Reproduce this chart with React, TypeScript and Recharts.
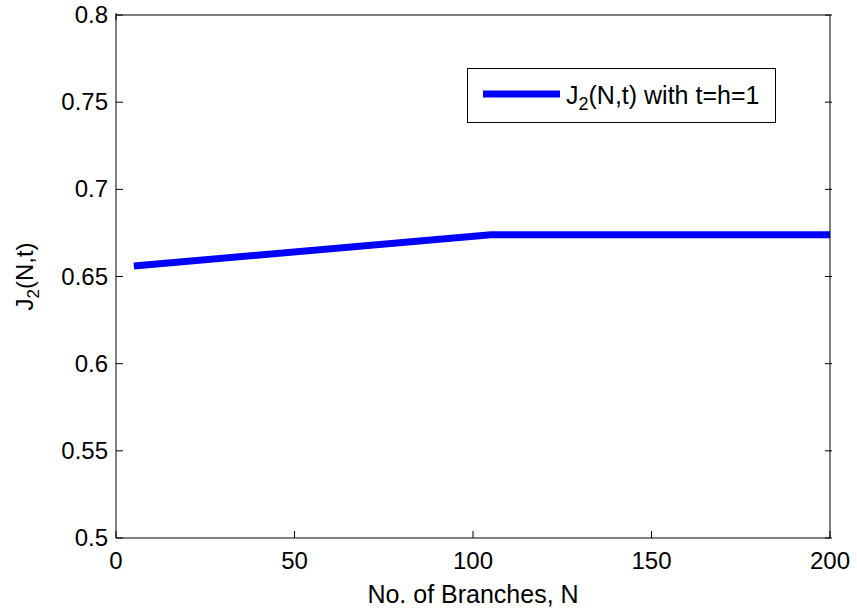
import React from 'react';
import { LineChart, Line, XAxis, YAxis, Legend } from 'recharts';

// J2(N,t) against the number of branches
const branches = [5, 105, 200];
const j2Values = [0.656, 0.674, 0.674];

const xTicks = [0, 50, 100, 150, 200];
const yTicks = [0.5, 0.55, 0.6, 0.65, 0.7, 0.75, 0.8];

const chartData = branches.map((n, i) => ({ n, j2: j2Values[i] }));

const FONT = "'Liberation Sans', Arial, sans-serif";
const TICK_LEN = 7;

const BottomTick = ({ x, y, payload }: any) => (
  <g>
    <line x1={x} x2={x} y1={y} y2={y - TICK_LEN} stroke="#000" />
    <text x={x} y={y + 31} textAnchor="middle" fontSize={24} fill="#000" fontFamily={FONT}>
      {payload.value}
    </text>
  </g>
);

const TopTick = ({ x, y }: any) => (
  <line x1={x} x2={x} y1={y} y2={y + TICK_LEN} stroke="#000" />
);

const LeftTick = ({ x, y, payload }: any) => (
  <g>
    <line x1={x} x2={x + TICK_LEN} y1={y} y2={y} stroke="#000" />
    <text x={x - 8} y={y + 8} textAnchor="end" fontSize={24} fill="#000" fontFamily={FONT}>
      {payload.value}
    </text>
  </g>
);

const RightTick = ({ x, y }: any) => (
  <line x1={x} x2={x - TICK_LEN} y1={y} y2={y} stroke="#000" />
);

const YLabel = ({ viewBox }: any) => {
  const cy = viewBox.y + viewBox.height / 2;
  return (
    <text
      transform={`translate(33, ${cy}) rotate(-90)`}
      textAnchor="middle"
      fontSize={24}
      fill="#000"
      fontFamily={FONT}
    >
      J<tspan fontSize={17} dy={6}>2</tspan>
      <tspan dy={-6}>(N,t)</tspan>
    </text>
  );
};

const LegendBox = () => (
  <div style={{ width: 309, height: 55, border: '1px solid #000', background: '#fff', boxSizing: 'border-box' }}>
    <svg width={307} height={53} style={{ display: 'block' }}>
      <line x1={15} x2={92} y1={25} y2={25} stroke="#0000ff" strokeWidth={7} />
      <text x={98} y={35} fontSize={25} fill="#000" fontFamily={FONT}>
        J<tspan fontSize={18} dy={6}>2</tspan>
        <tspan dy={-6}>(N,t) with t=h=1</tspan>
      </text>
    </svg>
  </div>
);

export default function App() {
  return (
    <div style={{ position: 'absolute', left: 0, top: 0, background: '#fff', fontFamily: FONT }}>
      <LineChart width={857} height={613} data={chartData} margin={{ top: 14, right: 26, left: 0, bottom: 0 }}>
        <XAxis
          dataKey="n"
          type="number"
          domain={[0, 200]}
          ticks={xTicks}
          height={75}
          axisLine={{ stroke: '#000' }}
          tickLine={false}
          tickSize={0}
          tickMargin={0}
          tick={<BottomTick />}
          interval={0}
          label={{
            value: 'No. of Branches, N',
            position: 'insideBottom',
            offset: 10,
            style: { fontSize: 25, fill: '#000', fontFamily: FONT },
          }}
        />
        <XAxis
          xAxisId="top"
          orientation="top"
          type="number"
          domain={[0, 200]}
          allowDataOverflow
          ticks={xTicks}
          height={1}
          axisLine={{ stroke: '#000' }}
          tickLine={false}
          tickSize={0}
          tick={<TopTick />}
          interval={0}
        />
        <YAxis
          type="number"
          domain={[0.5, 0.8]}
          ticks={yTicks}
          width={116}
          axisLine={{ stroke: '#000' }}
          tickLine={false}
          tickSize={0}
          tickMargin={0}
          tick={<LeftTick />}
          interval={0}
          label={(props: any) => <YLabel {...props} />}
        />
        <YAxis
          yAxisId="right"
          orientation="right"
          type="number"
          domain={[0.5, 0.8]}
          allowDataOverflow
          ticks={yTicks}
          width={1}
          axisLine={{ stroke: '#000' }}
          tickLine={false}
          tickSize={0}
          tick={<RightTick />}
          interval={0}
        />
        <Legend
          layout="vertical"
          align="center"
          verticalAlign="middle"
          content={<LegendBox />}
          wrapperStyle={{ position: 'absolute', left: 467, top: 68, width: 309, height: 55 }}
        />
        <Line
          dataKey="j2"
          stroke="#0000ff"
          strokeWidth={7}
          dot={false}
          activeDot={false}
          isAnimationActive={false}
        />
      </LineChart>
    </div>
  );
}
